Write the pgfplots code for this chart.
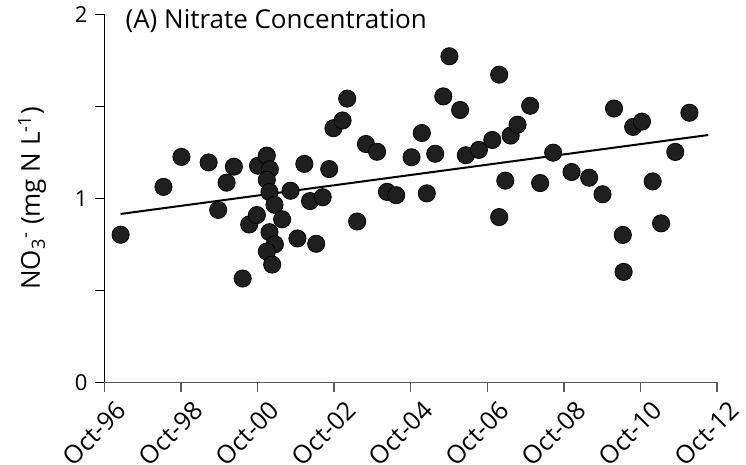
\documentclass[border=0pt]{standalone}
\usepackage{fontspec}
\setmainfont{Open Sans}
\usepackage{pgfplots}
\pgfplotsset{compat=1.18}

\pgfplotstableread{
year     no3
1997.17  0.803
1998.29  1.063
1998.76  1.226
1999.47  1.196
1999.72  0.938
1999.94  1.086
2000.13  1.173
2000.36  0.565
2000.53  0.859
2000.73  0.910
2000.76  1.178
2000.99  1.233
2001.07  1.159
2000.99  1.101
2001.06  1.035
2001.19  0.966
2001.39  0.887
2001.06  0.817
2001.20  0.751
2000.99  0.712
2001.13  0.641
2001.61  1.042
2001.79  0.783
2001.97  1.188
2002.12  0.986
2002.28  0.754
2002.45  1.007
2002.62  1.160
2002.73  1.382
2002.97  1.424
2003.09  1.543
2003.35  0.875
2003.58  1.296
2003.87  1.254
2004.13  1.036
2004.37  1.018
2004.77  1.224
2005.04  1.356
2005.17  1.028
2005.39  1.243
2005.60  1.555
2005.76  1.773
2006.04  1.481
2006.19  1.235
2006.53  1.264
2006.88  1.318
2007.06  1.673
2007.06  0.899
2007.22  1.097
2007.36  1.342
2007.54  1.401
2007.87  1.504
2008.13  1.084
2008.47  1.249
2008.95  1.144
2009.41  1.113
2009.76  1.023
2010.06  1.489
2010.29  0.802
2010.31  0.601
2010.56  1.389
2010.79  1.418
2011.07  1.093
2011.29  0.865
2011.66  1.253
2012.03  1.466
}\nitrate

\begin{document}
\begin{tikzpicture}
\useasboundingbox (-52.25pt,-41.25pt) rectangle (320.75pt,191.25pt);
\begin{axis}[
    at={(0,0)}, anchor=south west,
    scale only axis,
    width=306.25pt, height=184pt,
    xmin=1996.75, xmax=2012.75,
    ymin=0, ymax=2,
    axis lines=left,
    axis line style={-},
    x axis line style={black!65, line width=0.7pt},
    y axis line style={black, line width=0.8pt},
    xtick={1996.75,1998.75,2000.75,2002.75,2004.75,2006.75,2008.75,2010.75,2012.75},
    xticklabels={Oct-96,Oct-98,Oct-00,Oct-02,Oct-04,Oct-06,Oct-08,Oct-10,Oct-12},
    ytick={0,0.5,1,1.5,2},
    yticklabels={0,,1,,2},
    tick align=outside,
    major tick length=5pt,
    x tick style={black!65, line width=0.7pt},
    y tick style={black, line width=0.8pt},
    x tick label style={rotate=45, anchor=north east, inner sep=0.5pt,
        xshift=2pt, yshift=-5.5pt, font=\fontsize{12.6}{12.6}\selectfont},
    y tick label style={font=\fontsize{11}{11}\selectfont},
    /pgf/number format/assume math mode=true,
    ylabel={NO\textsubscript{3}\textsuperscript{-} (mg N L\textsuperscript{-1})},
    ylabel style={at={(axis description cs:-0.118,0.5)}, anchor=center,
        font=\fontsize{13}{13}\selectfont},
    clip=false,
]
\addplot[only marks, mark=*, mark size=4.3pt,
    mark options={fill=black!88, draw=black, line width=0.4pt}] table[x=year, y=no3] {\nitrate};
\addplot[black, line width=1pt] coordinates {(1997.17,0.916) (2012.52,1.345)};
\node[anchor=base west, inner sep=0pt, font=\fontsize{13}{13}\selectfont] at (axis cs:1997.29,1.925) {(A) Nitrate Concentration};
\end{axis}
\end{tikzpicture}
\end{document}
